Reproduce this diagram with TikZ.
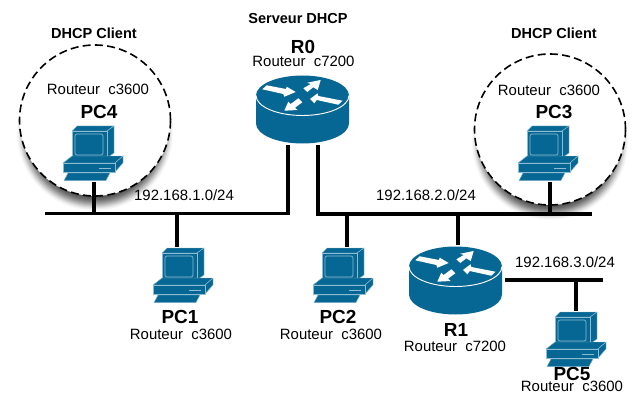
\documentclass[tikz,border=0pt]{standalone}
\usepackage{fontspec}
\setmainfont{Liberation Sans}
\definecolor{ciscoblue}{HTML}{066794}
\definecolor{ciscoedge}{HTML}{8DBBD1}
\tikzset{
  x=0.75pt,y=-0.75pt,
  wire/.style={line width=2.4pt,black},
  lab/.style={inner sep=0pt,anchor=base,font=\fontsize{11.2}{13}\selectfont},
  devname/.style={inner sep=0pt,anchor=base,font=\fontsize{14.2}{16}\selectfont\bfseries},
  role/.style={inner sep=0pt,anchor=base,font=\fontsize{10.9}{13}\selectfont\bfseries},
  zone/.style={draw=black,line width=1.2pt,fill=white,dash pattern=on 6pt off 3.2pt},
  pc/.pic={
    \fill[ciscoblue,draw=ciscoedge,line width=.35pt] (10,6)--(15,1)--(52,1)--(45,6)--cycle;
    \fill[ciscoblue,draw=ciscoedge,line width=.35pt] (45,6)--(52,1)--(52,28)--(45,33)--cycle;
    \fill[ciscoblue,draw=ciscoedge,line width=.35pt] (10,6) rectangle (45,33);
    \draw[ciscoedge,line width=.5pt,rounded corners=1.5pt] (13,9) rectangle (41,30);
    \fill[ciscoblue,draw=ciscoedge,line width=.35pt] (1,38)--(10,31)--(61,31)--(53,38)--cycle;
    \fill[ciscoblue,draw=ciscoedge,line width=.35pt] (53,38)--(61,31)--(61,38)--(53,47)--cycle;
    \fill[ciscoblue,draw=ciscoedge,line width=.35pt] (1,38) rectangle (53,47);
    \fill[ciscoedge] (37,42.5) rectangle (49,44);
    \fill[ciscoblue,draw=ciscoedge,line width=.35pt] (6,48)--(48,48)--(44,55.5)--(2,55.5)--cycle;
  },
  routershape/.pic={
    \fill[ciscoblue] (-46.5,0) -- (-46.5,28) arc[start angle=180,end angle=360,x radius=46.5,y radius=-20] -- (46.5,0) -- cycle;
    \fill[ciscoblue] (0,0) circle[x radius=46.5,y radius=20];
    \draw[white,line width=.7pt] (-46.5,0) arc[start angle=180,end angle=360,x radius=46.5,y radius=-20];
    \fill[white] (-6.8,-3.5)--(-15.8,-8.8)--(-16.5,-6.5)--(-35.8,-10.2)--(-40.2,-6.2)--(-19.2,-1.5)--(-18.2,1.2)--cycle;
    \fill[white] (7.5,3.5)--(15,-2.2)--(15.8,.5)--(40,5.2)--(35.8,9.2)--(14.2,4.5)--(11.8,7.8)--cycle;
    \fill[white] (18.2,-15.5)--(4.8,-12.8)--(8.2,-11.5)--(.8,-7.2)--(4.8,-3.5)--(10.8,-8.2)--(15.2,-5.5)--cycle;
    \fill[white] (-18.2,15.2)--(-14.2,6.2)--(-11.8,8.5)--(-4.2,2.8)--(-.2,6.8)--(-7.5,12.2)--(-4.8,14.5)--cycle;
  },
}
\begin{document}
\begin{tikzpicture}
\useasboundingbox (0,0) rectangle (643,403);
% client zones: soft drop shadows built of rings, darkest in the middle
\foreach \rr/\pp in {78/3,77/6,76/10,75/16,74/22,73/28,72/34,71/40,70/46,69/51,68/56,67/60,66/64,65/67,64/70,63/72}{
  \fill[black!\pp] (95,132.5) circle[radius=\rr];
  \fill[black!\pp] (550,141.5) circle[radius=\rr];
}
\path[zone] (95,120.5) circle[radius=75.5];
\path[zone] (550,129.5) circle[radius=75.5];
% device anchors
\coordinate (pc4) at (62,125);
\coordinate (pc3) at (517,125);
\coordinate (pc1) at (152,247);
\coordinate (pc2) at (312,247);
\coordinate (pc5) at (545,311);
\coordinate (r0) at (302.5,95.5);
\coordinate (r1) at (455.5,266.5);
% bus points
\coordinate (busAw) at (45,213.5);
\coordinate (busAe) at (288,213.5);
\coordinate (r0a) at (288,145);
\coordinate (r0b) at (318,145);
\coordinate (busBc) at (318,214);
\coordinate (busBe) at (592,214);
\coordinate (busCw) at (505,280);
\coordinate (busCe) at (603,280);
\coordinate (t4) at (94,213.5);
\coordinate (d4) at (94,182);
\coordinate (t1) at (177,213.5);
\coordinate (d1) at (177,247);
\coordinate (t2) at (347,214);
\coordinate (d2) at (347,247);
\coordinate (t3) at (550,214);
\coordinate (d3) at (550,182);
\coordinate (tr) at (458,214);
\coordinate (dr) at (458,245);
\coordinate (t5) at (576,280);
\coordinate (d5) at (576,311);
% wires
\draw[wire] (busAw) -- (busAe) -- (r0a);
\draw[wire] (r0b) -- (busBc) -- (busBe);
\draw[wire] (busCw) -- (busCe);
\draw[wire] (t4) -- (d4);
\draw[wire] (t1) -- (d1);
\draw[wire] (t2) -- (d2);
\draw[wire] (t3) -- (d3);
\draw[wire] (tr) -- (dr);
\draw[wire] (t5) -- (d5);
% devices
\pic at (pc4) {pc};
\pic at (pc3) {pc};
\pic at (pc1) {pc};
\pic at (pc2) {pc};
\pic at (pc5) {pc};
\pic at (r0) {routershape};
\pic at (r1) {routershape};
% labels
\node[role] (c4) at (94,39) {DHCP Client};
\node[role] (c3) at (554,38.5) {DHCP Client};
\node[role] (srv) at (298,23.5) {Serveur DHCP};
\node[devname] (n0) at (303,54) {R0};
\node[lab] (m0) at (303.5,67) {Routeur\ \ c7200};
\node[lab] (m4) at (98,95) {Routeur\ \ c3600};
\node[devname] (n4) at (99,118) {PC4};
\node[lab] (m3) at (549,96) {Routeur\ \ c3600};
\node[devname] (n3) at (554,118) {PC3};
\node[devname] (n1) at (180,323) {PC1};
\node[lab] (m1) at (181,339) {Routeur\ \ c3600};
\node[devname] (n2) at (338,323) {PC2};
\node[lab] (m2) at (331,339) {Routeur\ \ c3600};
\node[devname] (nr1) at (456,336) {R1};
\node[lab] (mr1) at (455,351) {Routeur\ \ c7200};
\node[devname] (n5) at (572,380) {PC5};
\node[lab] (m5) at (572,391) {Routeur\ \ c3600};
\node[lab] (ip1) at (184,200) {192.168.1.0/24};
\node[lab] (ip2) at (426,200) {192.168.2.0/24};
\node[lab] (ip3) at (565,267) {192.168.3.0/24};
\end{tikzpicture}
\end{document}
